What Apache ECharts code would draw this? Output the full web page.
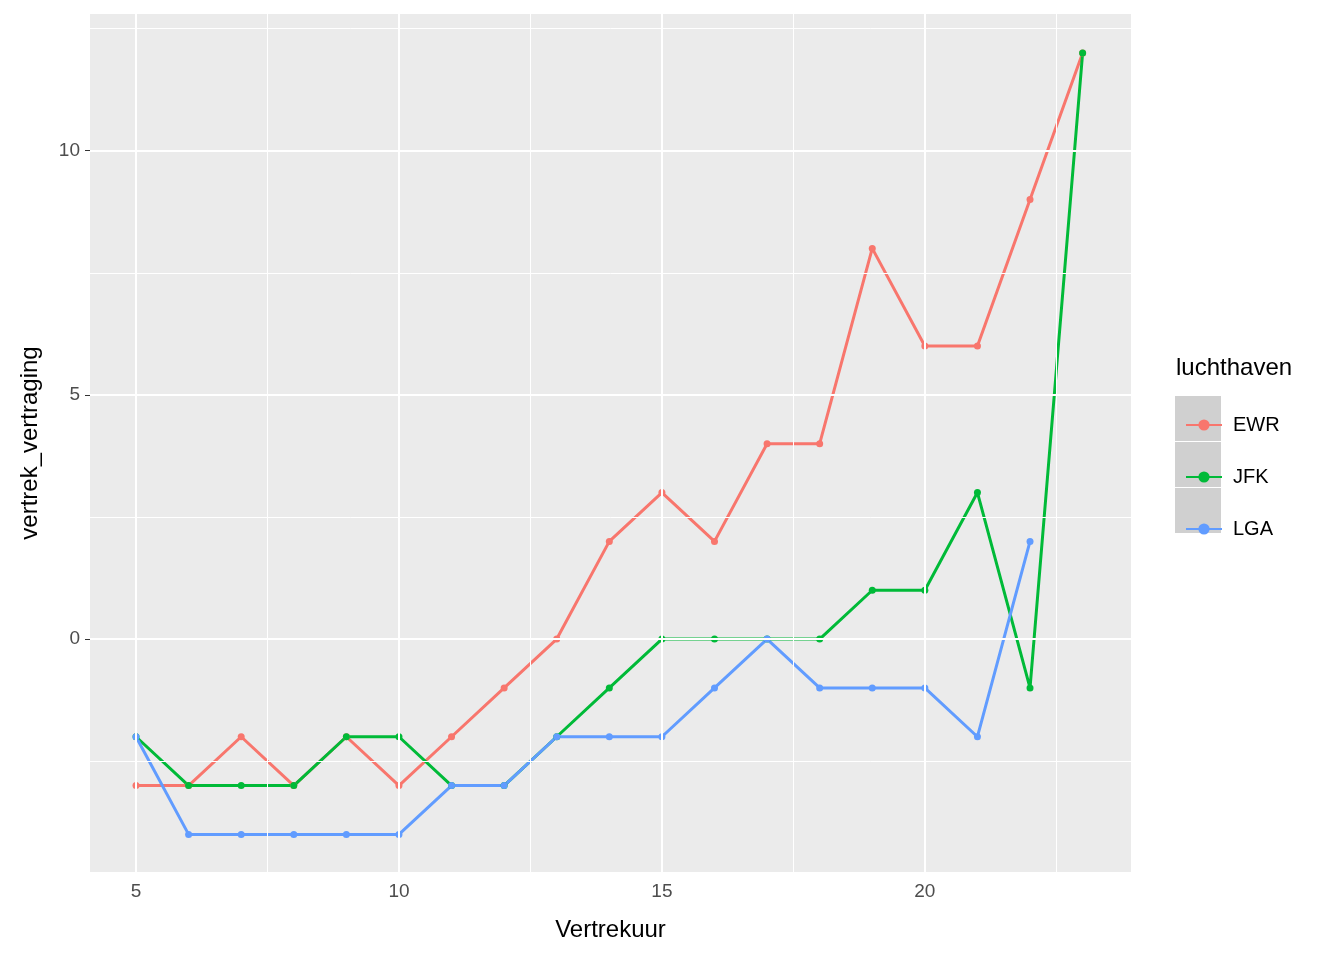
<!DOCTYPE html>
<html><head><meta charset="utf-8">
<script src="https://cdn.jsdelivr.net/npm/echarts@6/dist/echarts.min.js"></script>
<style>html,body{margin:0;background:#fff}#c{width:1344px;height:960px}</style>
</head><body><div id="c"></div>
<script>
// data
var hours = [5,6,7,8,9,10,11,12,13,14,15,16,17,18,19,20,21,22,23];
var ewr = [-3,-3,-2,-3,-2,-3,-2,-1,0,2,3,2,4,4,8,6,6,9,12];
var jfk = [-2,-3,-3,-3,-2,-2,-3,-3,-2,-1,0,0,0,0,1,1,3,-1,12];
var lga = [-2,-4,-4,-4,-4,-4,-3,-3,-2,-2,-2,-1,0,-1,-1,-1,-2,2];
var xTicks = [5,10,15,20];
var yTicks = [0,5,10];
var xMinor = [7.5,12.5,17.5,22.5];
var yMinor = [-2.5,2.5,7.5,12.5];
var names = ['EWR','JFK','LGA'];
var colors = ['#F8766D','#00BA38','#619CFF'];

function pairs(v){ return v.map(function(y,i){ return [hours[i], y]; }); }
var chart = echarts.init(document.getElementById('c'));
var grids = [];
xMinor.forEach(function(v){ grids.push({xAxis:v, lineStyle:{width:1}}); });
xTicks.forEach(function(v){ grids.push({xAxis:v, lineStyle:{width:2}}); });
yMinor.forEach(function(v){ grids.push({yAxis:v, lineStyle:{width:1}}); });
yTicks.forEach(function(v){ grids.push({yAxis:v, lineStyle:{width:2}}); });

var series = [{
  type:'line', data:[], silent:true,
  markLine:{silent:true, symbol:'none', label:{show:false}, lineStyle:{color:'#fff', type:'solid'}, data:grids, animation:false}
}];
[ewr,jfk,lga].forEach(function(v,i){
  series.push({name:names[i], type:'line', data:pairs(v), color:colors[i],
    symbol:'circle', symbolSize:7, lineStyle:{width:3}, animation:false});
});

chart.setOption({
  animation:false,
  grid:{left:90, right:213, top:14, bottom:88, show:true, backgroundColor:'#EBEBEB', borderWidth:0},
  xAxis:{type:'value', min:4.125, max:23.92, name:'Vertrekuur', nameLocation:'middle', nameGap:46,
    nameTextStyle:{fontSize:24, color:'#000', fontFamily:'Liberation Sans'},
    splitLine:{show:false}, axisLine:{show:false},
    axisTick:{show:true, length:5, lineStyle:{color:'#333'}, customValues:xTicks},
    axisLabel:{color:'#4D4D4D', fontSize:19, margin:10, fontFamily:'Liberation Sans', customValues:xTicks}},
  yAxis:{type:'value', min:-4.77, max:12.8, name:'vertrek_vertraging', nameLocation:'middle', nameGap:48,
    nameTextStyle:{fontSize:24, color:'#000', fontFamily:'Liberation Sans'},
    splitLine:{show:false}, axisLine:{show:false},
    axisTick:{show:true, length:5, lineStyle:{color:'#333'}, customValues:yTicks},
    axisLabel:{color:'#4D4D4D', fontSize:19, margin:10, fontFamily:'Liberation Sans', customValues:yTicks}},
  legend:{data:names, orient:'vertical', left:1180, top:410, itemWidth:36, itemHeight:14, itemGap:32,
    textStyle:{fontSize:20, color:'#000', fontFamily:'Liberation Sans', padding:[0,0,0,6]}},
  graphic:[
    {type:'text', left:1176, top:356, style:{text:'luchthaven', fontSize:24, fill:'#000', fontFamily:'Liberation Sans'}},
    {type:'rect', left:1175, top:396, shape:{width:46,height:45}, style:{fill:'#D0D0D0'}, z:-1},
    {type:'rect', left:1175, top:442, shape:{width:46,height:45}, style:{fill:'#D0D0D0'}, z:-1},
    {type:'rect', left:1175, top:488, shape:{width:46,height:45}, style:{fill:'#D0D0D0'}, z:-1}
  ],
  series:series
});
</script></body></html>
